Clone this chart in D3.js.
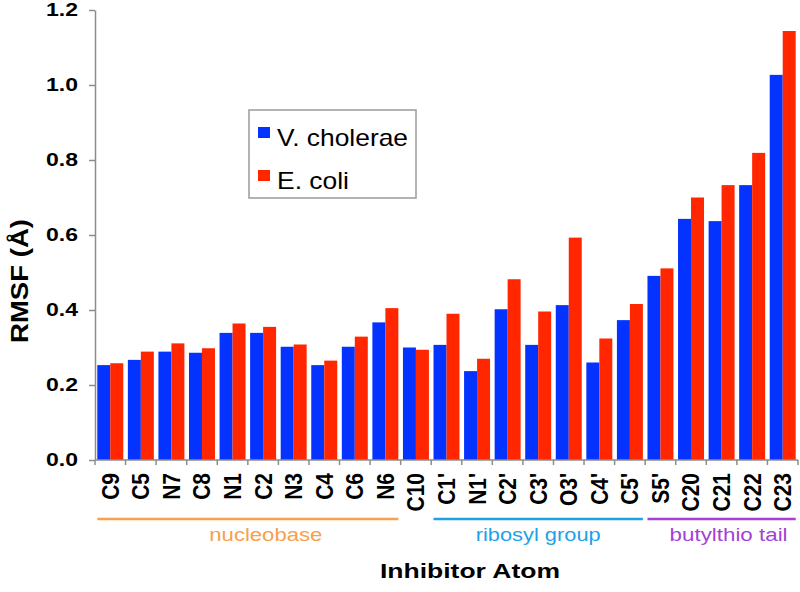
<!DOCTYPE html>
<html>
<head>
<meta charset="utf-8">
<script src="https://d3js.org/d3.v7.min.js"></script>
<style>
    body { margin: 0; background: #fff; }
    text { font-family: "Liberation Sans", Arial, Helvetica, sans-serif; }
</style>
</head>
<body>
<div id="rmsfChart"></div>
<script>
(function(){
    "use strict";

    // data
    var atoms = ["C9","C5","N7","C8","N1","C2","N3","C4","C6","N6","C10",
        "C1'","N1'","C2'","C3'","O3'","C4'","C5'","S5'","C20","C21","C22","C23"];
    var vCholerae = [0.253,0.267,0.289,0.286,0.339,0.339,0.302,0.253,0.302,0.367,0.300,
        0.307,0.237,0.402,0.307,0.413,0.260,0.373,0.491,0.643,0.637,0.733,1.027];
    var eColi = [0.258,0.289,0.311,0.298,0.364,0.355,0.308,0.265,0.329,0.405,0.294,
        0.390,0.270,0.482,0.396,0.593,0.324,0.416,0.511,0.700,0.733,0.819,1.144];
    var seriesNames = ["V. cholerae","E. coli"];
    var yTicks = [0.0,0.2,0.4,0.6,0.8,1.0,1.2];

    var groupNames = ["nucleobase","ribosyl group","butylthio tail"];
    var groupFirst = ["C9","C1'","S5'"];
    var groupLast = ["N6","C5'","C23"];

    // colours
    var barColors = ["#0433ff","#ff2600"];
    var groupColors = ["#f8a04c","#1ea1e8","#a43fd8"];
    var axisColor = "#8c8c8c";

    var width = 800, height = 592;
    var left = 95, right = 798, top = 10, bottom = 460;

    var svg = d3.select("#rmsfChart").append("svg")
        .attr("width", width)
        .attr("height", height);

    // scales
    var x = d3.scaleBand()
        .domain(atoms)
        .range([left, right])
        .paddingInner(0.15)
        .paddingOuter(0.075);
    var xSub = d3.scaleBand()
        .domain(seriesNames)
        .range([0, x.bandwidth()]);
    var y = d3.scaleLinear()
        .domain([0, 1.2])
        .range([bottom, top]);

    /*********************
     * Bars
     * ******************/
    var series = [vCholerae, eColi];
    series.forEach(function(values, s) {
        svg.append("g").selectAll("rect")
            .data(values)
            .enter().append("rect")
            .attr("x", function(d, i) { return x(atoms[i]) + xSub(seriesNames[s]); })
            .attr("width", xSub.bandwidth())
            .attr("y", function(d) { return y(d); })
            .attr("height", function(d) { return y(0) - y(d); })
            .attr("fill", barColors[s]);
    });

    // y axis
    var yAxis = svg.append("g")
        .attr("transform", "translate(" + left + ",0)")
        .call(d3.axisLeft(y).tickValues(yTicks).tickFormat(d3.format(".1f"))
            .tickSize(6).tickSizeOuter(0).tickPadding(11));
    yAxis.select(".domain").attr("stroke", axisColor).attr("stroke-width", 1.5);
    yAxis.selectAll(".tick line").attr("stroke", axisColor).attr("stroke-width", 1.5);
    yAxis.selectAll(".tick text")
        .attr("fill", "#000")
        .style("font-size", "18px")
        .style("font-weight", "bold")
        .attr("textLength", 32)
        .attr("lengthAdjust", "spacingAndGlyphs");

    // x axis: line, ticks between categories, rotated labels
    var xAxis = svg.append("g");
    xAxis.append("line")
        .attr("x1", left).attr("x2", right)
        .attr("y1", y(0)).attr("y2", y(0))
        .attr("stroke", axisColor).attr("stroke-width", 1.5);
    xAxis.selectAll(".xtick")
        .data(d3.range(atoms.length + 1))
        .enter().append("line")
        .attr("class", "xtick")
        .attr("x1", function(i) { return left + i * x.step(); })
        .attr("x2", function(i) { return left + i * x.step(); })
        .attr("y1", y(0)).attr("y2", y(0) + 5)
        .attr("stroke", axisColor).attr("stroke-width", 1.5);
    xAxis.selectAll(".xlabel")
        .data(atoms)
        .enter().append("text")
        .attr("class", "xlabel")
        .attr("transform", function(d) {
            return "translate(" + (x(d) + x.bandwidth() / 2) + "," + (y(0) + 13) + ") rotate(-90) scale(1,1.12)";
        })
        .attr("dy", "0.36em")
        .attr("text-anchor", "end")
        .style("font-size", "21px")
        .style("font-weight", "bold")
        .text(function(d) { return d; });

    // y axis title
    svg.append("text")
        .attr("transform", "translate(28,281) rotate(-90)")
        .attr("text-anchor", "middle")
        .style("font-size", "23px")
        .style("font-weight", "bold")
        .attr("textLength", 124)
        .attr("lengthAdjust", "spacingAndGlyphs")
        .text("RMSF (\u00c5)");

    // group brackets under the labels
    var groupWidths = [113, 125, 118];
    var groupShift = [18, 0, 7];
    groupNames.forEach(function(name, g) {
        var x1 = x(groupFirst[g]);
        var x2 = x(groupLast[g]) + x.bandwidth();
        svg.append("line")
            .attr("x1", x1).attr("x2", x2)
            .attr("y1", 519).attr("y2", 519)
            .attr("stroke", groupColors[g])
            .attr("stroke-width", 2.5);
        svg.append("text")
            .attr("x", (x1 + x2) / 2 + groupShift[g])
            .attr("y", 541)
            .attr("text-anchor", "middle")
            .attr("fill", groupColors[g])
            .style("font-size", "18px")
            .attr("textLength", groupWidths[g])
            .attr("lengthAdjust", "spacingAndGlyphs")
            .text(name);
    });

    // x axis title
    svg.append("text")
        .attr("x", 470)
        .attr("y", 578)
        .attr("text-anchor", "middle")
        .style("font-size", "21px")
        .style("font-weight", "bold")
        .attr("textLength", 180)
        .attr("lengthAdjust", "spacingAndGlyphs")
        .text("Inhibitor Atom");

    /*********************
     * Legend
     * ******************/
    var legendWidths = [131, 72];
    var legend = svg.append("g").attr("transform", "translate(249,110)");
    legend.append("rect")
        .attr("width", 167).attr("height", 88)
        .attr("fill", "#fff")
        .attr("stroke", "#9a9a9a")
        .attr("stroke-width", 1.5);
    seriesNames.forEach(function(name, s) {
        legend.append("rect")
            .attr("x", 9).attr("y", 17 + s * 43)
            .attr("width", 12).attr("height", 11)
            .attr("fill", barColors[s]);
        legend.append("text")
            .attr("x", 28).attr("y", 36 + s * 42.5)
            .style("font-size", "24px")
            .attr("textLength", legendWidths[s])
            .attr("lengthAdjust", "spacingAndGlyphs")
            .text(name);
    });
})();
</script>
</body>
</html>
